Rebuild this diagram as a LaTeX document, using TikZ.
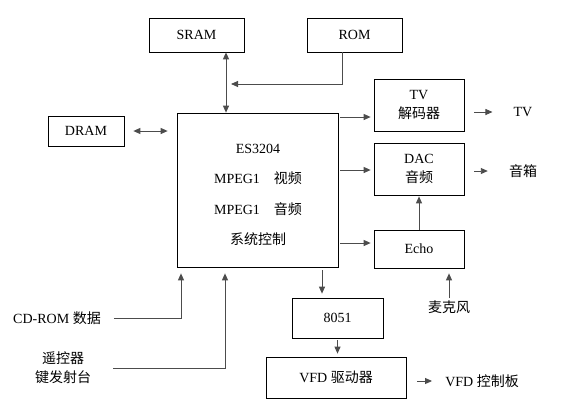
\documentclass[tikz,border=0pt]{standalone}
\usepackage{fontspec}
\setmainfont{Liberation Serif}
\newfontfamily\cjk{Noto Sans CJK SC}
\usetikzlibrary{arrows.meta}

\begin{document}
\begin{tikzpicture}[x=1pt, y=-1pt, >={Triangle[length=7pt,width=6pt]},
    font=\fontsize{14}{19}\selectfont,
    box/.style={draw, line width=0.7pt, align=center, inner sep=0pt},
    conn/.style={draw=black!70, line width=0.9pt},
    lbl/.style={align=center, inner sep=2pt}]
        \useasboundingbox (0,0) rectangle (575,400);

        % blocks
        \node[box, minimum width=95pt, minimum height=34pt] (sram) at (196.5,35) {SRAM};
        \node[box, minimum width=95pt, minimum height=34pt] (rom) at (354.5,35) {ROM};
        \node[box, minimum width=76pt, minimum height=30pt] (dram) at (86,131) {DRAM};
        \node[box, minimum width=161pt, minimum height=154pt] (es) at (257.5,190) {};
        \node[align=center, font=\fontsize{14}{30.5}\selectfont] (estext) at (258,195)
            {ES3204\\MPEG1\hspace{14pt}{\cjk 视频}\\MPEG1\hspace{14pt}{\cjk 音频}\\{\cjk 系统控制}};
        \node[box, minimum width=90pt, minimum height=52pt] (tvdec) at (419,105) {TV\\{\cjk 解码器}};
        \node[box, minimum width=90pt, minimum height=52pt] (dac) at (419,169) {DAC\\{\cjk 音频}};
        \node[box, minimum width=90pt, minimum height=38pt] (echo) at (419,249) {Echo};
        \node[box, minimum width=91pt, minimum height=40pt] (mcu) at (337.5,318) {8051};
        \node[box, minimum width=140pt, minimum height=41pt] (vfd) at (336,377.5) {VFD {\cjk 驱动器}};

        % outer labels
        \node[lbl] (tv) at (523,112) {TV};
        \node[lbl] (spk) at (523,171) {{\cjk 音箱}};
        \node[lbl] (panel) at (482,381) {VFD {\cjk 控制板}};
        \node[lbl] (mic) at (449,307) {{\cjk 麦克风}};
        \node[lbl] (cd) at (57,318) {CD-ROM {\cjk 数据}};
        \node[lbl] (rc) at (63,368) {{\cjk 遥控器}\\{\cjk 键发射台}};

        % connectors
        \draw[conn, <->] (226,0 |- sram.south) -- (226,0 |- es.north);
        \draw[conn, ->] (342,0 |- rom.south) |- (231,84);
        \draw[conn, <->] ([xshift=9pt]dram.east) -- ([xshift=-9pt]es.west |- dram.east);
        \draw[conn, ->] ([xshift=2pt]es.east |- 0,117) -- ([xshift=-3pt]tvdec.west |- 0,117);
        \draw[conn, ->] ([xshift=2pt]es.east |- 0,170) -- ([xshift=-3pt]dac.west |- 0,170);
        \draw[conn, ->] ([xshift=2pt]es.east |- 0,243) -- ([xshift=-3pt]echo.west |- 0,243);
        \draw[conn, ->] (echo.north) -- ([yshift=-1pt]dac.south);
        \draw[conn, ->] (mic.north) -- ([yshift=-5pt]mic.north |- echo.south);
        \draw[conn, ->] ([yshift=-3pt]322,0 |- es.south) -- ([yshift=4pt]322,0 |- mcu.north);
        \draw[conn, ->] ([yshift=-2pt]mcu.south) -- ([yshift=3pt]mcu.south |- vfd.north);
        \draw[conn, ->] ([xshift=10pt]tvdec.east |- tv.west) -- ([xshift=-19pt]tv.west);
        \draw[conn, ->] ([xshift=10pt]dac.east |- spk.west) -- ([xshift=-19pt]spk.west);
        \draw[conn, ->] ([xshift=11pt]vfd.east |- panel.west) -- ([xshift=-11pt]panel.west);
        \draw[conn, ->] ([xshift=11pt]cd.east) -| ([yshift=-6pt]181,0 |- es.south);
        \draw[conn, ->] ([xshift=20pt]rc.east) -| ([yshift=-6pt]225,0 |- es.south);
    \end{tikzpicture}
\end{document}
